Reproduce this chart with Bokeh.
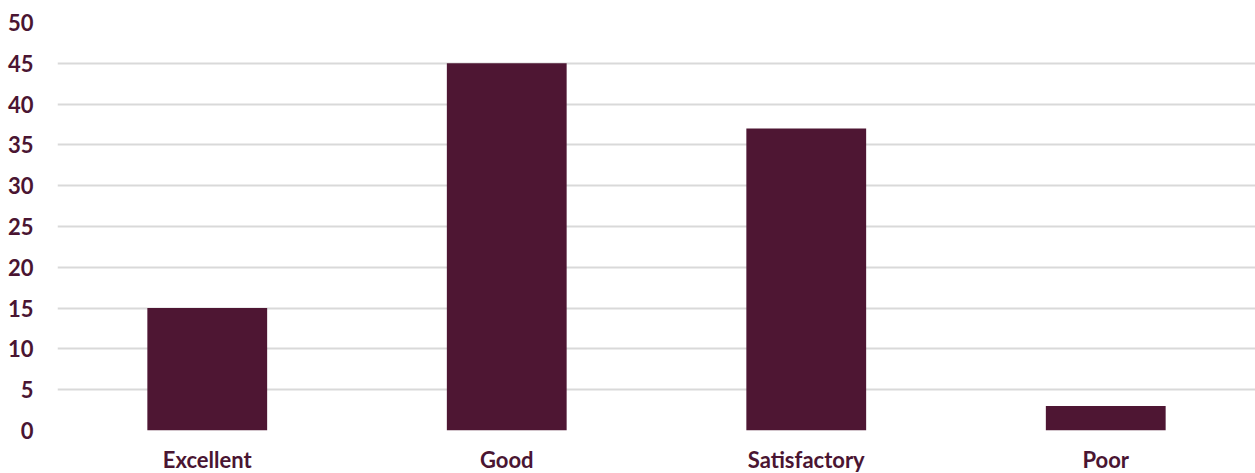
from bokeh.plotting import figure
from bokeh.models import ColumnDataSource, SingleIntervalTicker, Range1d
from bokeh.embed import file_html
from bokeh.resources import INLINE

categories = ["Excellent", "Good", "Satisfactory", "Poor"]
values = [15, 45, 37, 3]

maroon = "#4E1633"
text_col = "#4A1532"

src = ColumnDataSource(dict(cat=categories, val=values))

p = figure(x_range=categories, y_range=Range1d(0, 50),
           frame_width=1198, frame_height=408,
           output_backend="svg", toolbar_location=None,
           min_border_left=57, min_border_right=0, min_border_top=22, min_border_bottom=0)
p.vbar(x="cat", top="val", width=0.4, source=src, color=maroon, line_color=None)

p.outline_line_color = None
p.background_fill_color = "white"
p.x_range.range_padding = 0
p.xgrid.grid_line_color = None
p.ygrid.grid_line_color = "#D9D9D9"
p.ygrid.grid_line_width = 2
p.yaxis.ticker = SingleIntervalTicker(interval=5)

for ax in (p.xaxis, p.yaxis):
    ax.axis_line_color = None
    ax.major_tick_line_color = None
    ax.minor_tick_line_color = None
    ax.major_label_text_font = "Lato"
    ax.major_label_text_font_style = "bold"
    ax.major_label_text_font_size = "22px"
    ax.major_label_text_color = text_col
p.yaxis.major_label_standoff = 18
p.xaxis.major_label_standoff = 9

open("out.html", "w").write(file_html(p, INLINE))
